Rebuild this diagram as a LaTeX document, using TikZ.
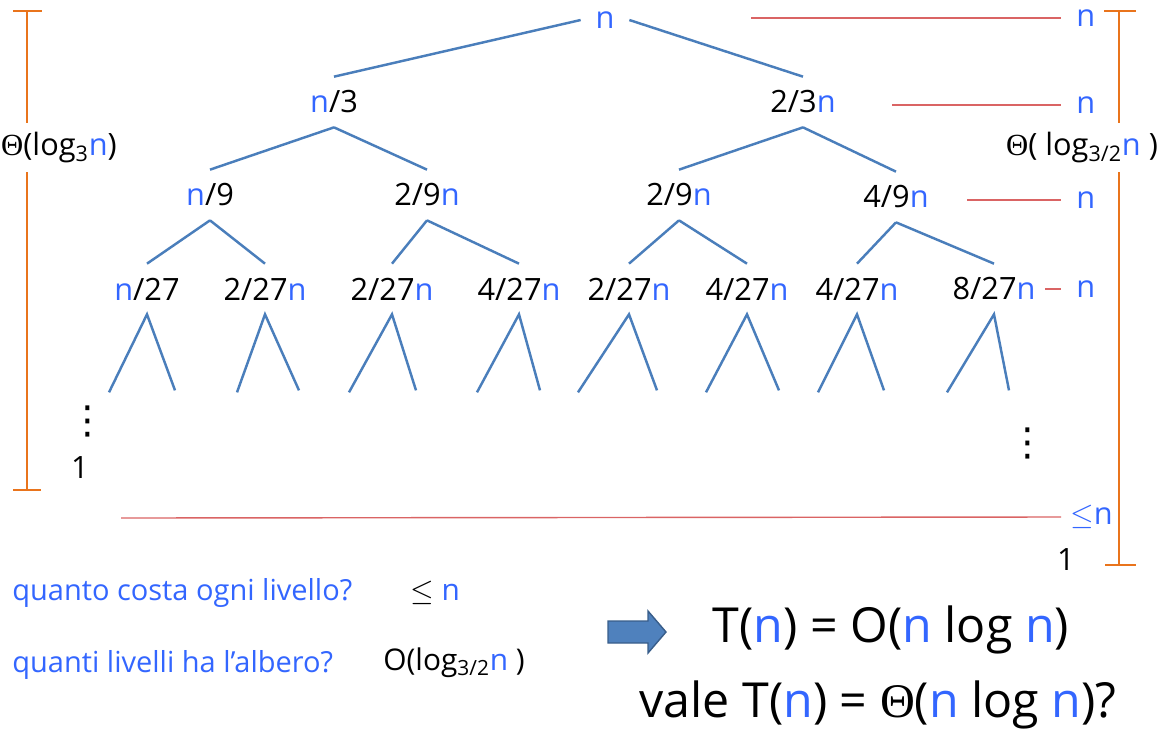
\documentclass[tikz,border=0pt]{standalone}
\usepackage{fontspec}
\setmainfont{Open Sans}
\newfontfamily\symb{Liberation Serif}
\newfontfamily\dotfont{DejaVu Sans}
\definecolor{nblue}{RGB}{51,102,255}
\definecolor{treeblue}{RGB}{74,126,187}
\definecolor{costred}{RGB}{218,100,100}
\definecolor{barorange}{RGB}{233,116,28}
\definecolor{arrowfill}{RGB}{79,129,189}
\definecolor{arrowdraw}{RGB}{56,93,138}
\newcommand{\nn}{\textcolor{nblue}{n}}
\newcommand{\tht}{{\symb Θ}}
\begin{document}
\begin{tikzpicture}[
    x=0.02cm,
    y=-0.02cm,
    lbl/.style={
      inner sep=0pt,
      minimum height=1cm,
      font=\fontsize{17.5}{20}\selectfont
    },
    edge/.style={draw=treeblue, line width=1.4pt},
    vdots/.style={inner sep=0pt, font=\dotfont\fontsize{22}{24}\selectfont},
    cost/.style={
      anchor=west,
      inner ysep=0pt,
      inner xsep=0.3cm,
      font=\fontsize{17.5}{20}\selectfont
    },
    costline/.style={draw=costred, line width=0.8pt},
    bar/.style={draw=barorange, line width=1.6pt},
    question/.style={
      anchor=west,
      inner sep=0pt,
      text=nblue,
      font=\fontsize{16.5}{19}\selectfont
    },
    answer/.style={anchor=west, inner sep=0pt, font=\fontsize{17}{20}\selectfont},
    result/.style={inner sep=0pt, font=\fontsize{27.5}{32}\selectfont}
  ]
    \useasboundingbox (0,0) rectangle (1157,735);

    % recursion tree
    \node[lbl, minimum width=0.96cm] (root) at (605,20) {\nn};

    \node[lbl] (a) at (334,102) {\nn/3};
    \node[lbl] (b) at (803,102) {2/3\nn};

    \node[lbl] (aa) at (210,195) {\nn/9};
    \node[lbl] (ab) at (427,195) {2/9\nn};
    \node[lbl] (ba) at (679,195) {2/9\nn};
    \node[lbl] (bb) at (896,197) {4/9\nn};

    \node[lbl] (aaa) at (147,289) {\nn/27};
    \node[lbl] (aab) at (265,289) {2/27\nn};
    \node[lbl] (aba) at (392,289) {2/27\nn};
    \node[lbl] (abb) at (519,289) {4/27\nn};
    \node[lbl] (baa) at (629,289) {2/27\nn};
    \node[lbl] (bab) at (747,289) {4/27\nn};
    \node[lbl] (bba) at (857,289) {4/27\nn};
    \node[lbl] (bbb) at (994,289) {8/27\nn};

    \draw[edge] (root.west) -- (a.north);
    \draw[edge] (root.east) -- (b.north);
    \draw[edge] (a.south) -- (aa.north);
    \draw[edge] (a.south) -- (ab.north);
    \draw[edge] (b.south) -- (ba.north);
    \draw[edge] (b.south) -- (bb.north);
    \foreach \p in {aa, ab, ba, bb} {
      \draw[edge] (\p.south) -- (\p a.north);
      \draw[edge] (\p.south) -- (\p b.north);
    }

    % subtrees below the last level
    \foreach \leaf/\l/\r in {aaa/-38/28, aab/-28/34, aba/-43/24, abb/-42/21,
                             baa/-51/28, bab/-41/32, bba/-39/27, bbb/-47/15}
      \draw[edge] (\leaf.south) ++(\l,78) -- (\leaf.south) -- ++(\r,76);

    \node[vdots] (dotsL) at (88,421) {⋮};
    \node[lbl] (oneL) at (80,468) {1};
    \node[vdots] (dotsR) at (1028,443) {⋮};
    \node[lbl] (oneR) at (1066,560) {1};

    % cost of each level
    \coordinate (s0) at (751,18);
    \coordinate (s1) at (892,105);
    \coordinate (s2) at (967,200);
    \coordinate (s3) at (1045,289);
    \coordinate (s4) at (121,518);
    \node[cost] (k0) at (1061,18) {\nn};
    \node[cost] (k1) at (1061,105) {\nn};
    \node[cost] (k2) at (1061,200) {\nn};
    \node[cost] (k3) at (1061,289) {\nn};
    \node[cost, inner xsep=0.18cm] (k4) at (1061,517) {{\color{nblue}$\leq$n}};
    \foreach \i in {0,...,4}
      \draw[costline] (s\i) -- (k\i.west);

    % depth of the tree
    \draw[bar] (13,11) -- (42,11) (27,11) -- (27,123) (27,172) -- (27,490) (13,490) -- (41,490);
    \node[lbl] (depthL) at (59,148) {\tht(log\textsubscript{3}\nn)};
    \draw[bar] (1104,11) -- (1136,11) (1119,11) -- (1119,123) (1119,172) -- (1119,565) (1105,565) -- (1136,565);
    \node[lbl] (depthR) at (1082,148) {\tht( log\textsubscript{3/2}\nn\ )};

    % questions
    \node[question] (q1) at (12,593) {quanto costa ogni livello?};
    \node[answer] (r1) at (410,593) {$\leq$ \nn};
    \node[question] (q2) at (12,665) {quanti livelli ha l’albero?};
    \node[answer] (r2) at (383,663) {O(log\textsubscript{3/2}\nn\ )};

    \draw[draw=arrowdraw, fill=arrowfill, line width=0.8pt]
      (608,621) -- (648,621) -- (648,611) -- (666,632) -- (648,653) -- (648,643) -- (608,643) -- cycle;

    \node[result] (res1) at (891,630) {T(\nn) = O(\nn{} log \nn)};
    \node[result] (res2) at (878,705) {vale T(\nn) = \tht(\nn{} log \nn)?};
  \end{tikzpicture}
\end{document}
